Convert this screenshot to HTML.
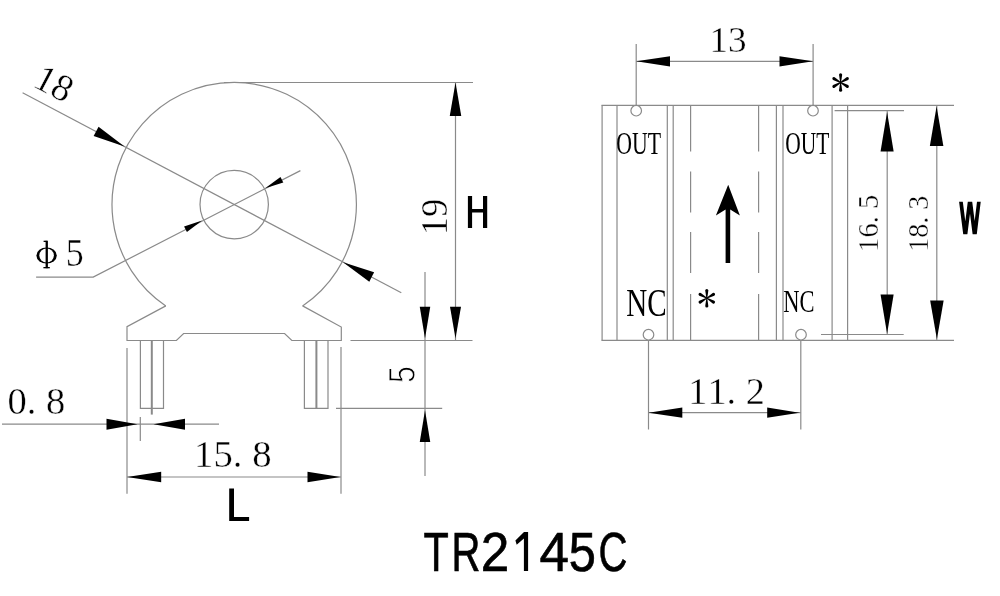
<!DOCTYPE html>
<html><head><meta charset="utf-8"><title>TR2145C</title>
<style>html,body{margin:0;padding:0;background:#fff;width:1000px;height:596px;overflow:hidden}svg{display:block;filter:grayscale(1)}</style>
</head><body>
<svg width="1000" height="596" viewBox="0 0 1000 596">
<rect width="1000" height="596" fill="#fff"/>
<path d="M165.8,305.9 A122.2,122.2 0 1 1 302.6,305.9" stroke="#8a8a8a" stroke-width="1.2" fill="none"/>
<path d="M302.6,305.9 L341.3,327 L341.3,340.5 L291.8,340.5 L284.6,333.5 L183.6,333.5 L176.4,340.5 L127,340.5 L127,326.6 L165.8,305.9" stroke="#8a8a8a" stroke-width="1.2" fill="none"/>
<circle cx="234.2" cy="204.6" r="34.2" stroke="#8a8a8a" fill="none" stroke-width="1.2"/>
<path d="M140.4,340.5 L140.4,408.3 L163.5,408.3 L163.5,340.5" stroke="#8a8a8a" stroke-width="1.2" fill="none"/>
<path d="M304.4,340.5 L304.4,408.3 L328.0,408.3 L328.0,340.5" stroke="#8a8a8a" stroke-width="1.2" fill="none"/>
<line x1="151.8" y1="340.5" x2="151.8" y2="414.6" stroke="#8a8a8a" stroke-width="2"/>
<line x1="316.4" y1="340.5" x2="316.4" y2="408.3" stroke="#8a8a8a" stroke-width="2"/>
<line x1="224" y1="82.5" x2="473" y2="82.5" stroke="#8a8a8a" stroke-width="1.2"/>
<line x1="350.5" y1="340.5" x2="472.5" y2="340.5" stroke="#8a8a8a" stroke-width="1.2"/>
<line x1="336" y1="408.3" x2="442.2" y2="408.3" stroke="#8a8a8a" stroke-width="1.2"/>
<line x1="127" y1="348" x2="127" y2="493.8" stroke="#8a8a8a" stroke-width="1.2"/>
<line x1="341" y1="347" x2="341" y2="493.8" stroke="#8a8a8a" stroke-width="1.2"/>
<line x1="140.3" y1="417" x2="140.3" y2="441" stroke="#8a8a8a" stroke-width="1.2"/>
<line x1="455.5" y1="82.5" x2="455.5" y2="340.5" stroke="#8a8a8a" stroke-width="1.2"/>
<polygon points="455.50,82.50 449.75,116.10 461.25,116.10" fill="#000"/>
<polygon points="455.50,338.50 461.00,306.80 450.00,306.80" fill="#000"/>
<line x1="425" y1="272" x2="425" y2="476" stroke="#8a8a8a" stroke-width="1.2"/>
<polygon points="425.00,338.50 430.25,306.80 419.75,306.80" fill="#000"/>
<polygon points="425.00,410.20 419.75,442.00 430.25,442.00" fill="#000"/>
<line x1="22.6" y1="92.7" x2="401.3" y2="292.8" stroke="#8a8a8a" stroke-width="1.2"/>
<polygon points="124.50,146.50 98.56,126.76 93.64,136.04" fill="#000"/>
<polygon points="343.00,262.20 369.29,281.67 374.11,272.33" fill="#000"/>
<path d="M300.4,170.6 L93.2,277.1 L36.1,277.1" stroke="#8a8a8a" stroke-width="1.2" fill="none"/>
<polygon points="265.10,188.20 283.29,182.57 280.51,177.03" fill="#000"/>
<polygon points="202.10,220.60 184.07,226.45 186.93,231.95" fill="#000"/>
<line x1="2" y1="424.2" x2="219" y2="424.2" stroke="#8a8a8a" stroke-width="1.2"/>
<polygon points="137.50,424.20 106.50,418.70 106.50,429.70" fill="#000"/>
<polygon points="153.50,424.20 185.00,429.70 185.00,418.70" fill="#000"/>
<line x1="127" y1="477" x2="341" y2="477" stroke="#8a8a8a" stroke-width="1.2"/>
<polygon points="127.00,477.00 161.20,482.25 161.20,471.75" fill="#000"/>
<polygon points="340.50,477.00 307.50,471.75 307.50,482.25" fill="#000"/>
<ellipse cx="46.6" cy="255.45" rx="10.2" ry="8.05" fill="#000"/>
<ellipse cx="46.6" cy="255.45" rx="7.3" ry="7.0" fill="#fff"/>
<rect x="45.6" y="240.7" width="2.3" height="27.5" fill="#000"/>
<rect x="43.6" y="240.7" width="3" height="1.3" fill="#000"/>
<rect x="43.4" y="267.0" width="6.4" height="1.3" fill="#000"/>
<path d="M467.9,196 h4.2 v12.9 h10.9 v-12.9 h4.2 v32.1 h-4.2 v-15.5 h-10.9 v15.5 h-4.2 z" fill="#000"/>
<path d="M229.2,488.4 h4.8 v28.5 h15.1 v4 h-19.9 z" fill="#000"/>
<path d="M528.1,532.1 L524.0,532.1 L515.4,540.6 L516.7,544.8 L523.9,538.4 L523.9,570.9 L528.1,570.9 Z" fill="#000"/>
<clipPath id="wc"><rect x="950" y="201.8" width="40" height="32.4"/></clipPath>
<polyline clip-path="url(#wc)" points="960.6,199 965.3,236 970.0,199 974.7,236 979.2,199" fill="none" stroke="#000" stroke-width="3.7" stroke-linejoin="miter" stroke-miterlimit="20"/>
<line x1="601.5" y1="105.3" x2="954" y2="105.3" stroke="#8a8a8a" stroke-width="1.2"/>
<line x1="601.5" y1="340.4" x2="954" y2="340.4" stroke="#8a8a8a" stroke-width="1.2"/>
<line x1="602.1" y1="105.3" x2="602.1" y2="340.4" stroke="#8a8a8a" stroke-width="1.2"/>
<line x1="617.0" y1="105.3" x2="617.0" y2="340.4" stroke="#8a8a8a" stroke-width="1.2"/>
<line x1="667.3" y1="105.3" x2="667.3" y2="340.4" stroke="#8a8a8a" stroke-width="1.2"/>
<line x1="673.2" y1="105.3" x2="673.2" y2="340.4" stroke="#8a8a8a" stroke-width="1.2"/>
<line x1="776.4" y1="105.3" x2="776.4" y2="340.4" stroke="#8a8a8a" stroke-width="1.2"/>
<line x1="783.0" y1="105.3" x2="783.0" y2="340.4" stroke="#8a8a8a" stroke-width="1.2"/>
<line x1="832.1" y1="105.3" x2="832.1" y2="340.4" stroke="#8a8a8a" stroke-width="1.2"/>
<line x1="847.6" y1="105.3" x2="847.6" y2="340.4" stroke="#8a8a8a" stroke-width="1.2"/>
<line x1="690.6" y1="105.3" x2="690.6" y2="151.5" stroke="#8a8a8a" stroke-width="1.2"/>
<line x1="690.6" y1="171.5" x2="690.6" y2="212.5" stroke="#8a8a8a" stroke-width="1.2"/>
<line x1="690.6" y1="232" x2="690.6" y2="273" stroke="#8a8a8a" stroke-width="1.2"/>
<line x1="690.6" y1="294" x2="690.6" y2="340.4" stroke="#8a8a8a" stroke-width="1.2"/>
<line x1="758.6" y1="105.3" x2="758.6" y2="151.5" stroke="#8a8a8a" stroke-width="1.2"/>
<line x1="758.6" y1="171.5" x2="758.6" y2="212.5" stroke="#8a8a8a" stroke-width="1.2"/>
<line x1="758.6" y1="232" x2="758.6" y2="273" stroke="#8a8a8a" stroke-width="1.2"/>
<line x1="758.6" y1="294" x2="758.6" y2="340.4" stroke="#8a8a8a" stroke-width="1.2"/>
<line x1="834.6" y1="110.6" x2="904" y2="110.6" stroke="#8a8a8a" stroke-width="1.2"/>
<line x1="821" y1="334.5" x2="903.7" y2="334.5" stroke="#8a8a8a" stroke-width="1.2"/>
<circle cx="636.2" cy="110.7" r="5.3" fill="#fff" stroke="#8a8a8a" stroke-width="1.2"/>
<circle cx="813.0" cy="110.7" r="5.3" fill="#fff" stroke="#8a8a8a" stroke-width="1.2"/>
<circle cx="648.5" cy="334.7" r="5.3" fill="#fff" stroke="#8a8a8a" stroke-width="1.2"/>
<circle cx="801.0" cy="334.7" r="5.3" fill="#fff" stroke="#8a8a8a" stroke-width="1.2"/>
<line x1="636.2" y1="44" x2="636.2" y2="105.4" stroke="#8a8a8a" stroke-width="1.2"/>
<line x1="813.1" y1="44" x2="813.1" y2="105.4" stroke="#8a8a8a" stroke-width="1.2"/>
<line x1="636.2" y1="61.3" x2="813.1" y2="61.3" stroke="#8a8a8a" stroke-width="1.2"/>
<polygon points="636.20,61.30 670.00,66.45 670.00,56.15" fill="#000"/>
<polygon points="813.10,61.30 779.50,56.15 779.50,66.45" fill="#000"/>
<line x1="648.5" y1="340" x2="648.5" y2="429.5" stroke="#8a8a8a" stroke-width="1.2"/>
<line x1="800.8" y1="340" x2="800.8" y2="429.5" stroke="#8a8a8a" stroke-width="1.2"/>
<line x1="648.5" y1="412.7" x2="800.8" y2="412.7" stroke="#8a8a8a" stroke-width="1.2"/>
<polygon points="648.50,412.70 682.30,417.85 682.30,407.55" fill="#000"/>
<polygon points="799.50,412.70 767.20,407.55 767.20,417.85" fill="#000"/>
<line x1="887.2" y1="111" x2="887.2" y2="334" stroke="#8a8a8a" stroke-width="1.2"/>
<line x1="936.8" y1="105.5" x2="936.8" y2="340" stroke="#8a8a8a" stroke-width="1.2"/>
<polygon points="887.10,111.90 880.55,151.60 893.65,151.60" fill="#000"/>
<polygon points="887.10,333.80 893.65,294.60 880.55,294.60" fill="#000"/>
<polygon points="936.60,106.20 929.85,146.10 943.35,146.10" fill="#000"/>
<polygon points="936.90,339.20 943.65,300.50 930.15,300.50" fill="#000"/>
<polygon points="728.2,184.7 739.9,215.6 730.2,209.6 730.2,263.1 725.6,263.1 725.6,209.6 715.9,215.6" fill="#000"/>
<path d="M-0.45,0 L-1.55,-7.75 A1.55,1.55 0 0 1 1.55,-7.75 L0.45,0 Z" fill="#000" transform="translate(840.6,82.5) rotate(0)"/>
<path d="M-0.45,0 L-1.55,-7.75 A1.55,1.55 0 0 1 1.55,-7.75 L0.45,0 Z" fill="#000" transform="translate(840.6,82.5) rotate(60)"/>
<path d="M-0.45,0 L-1.55,-7.75 A1.55,1.55 0 0 1 1.55,-7.75 L0.45,0 Z" fill="#000" transform="translate(840.6,82.5) rotate(120)"/>
<path d="M-0.45,0 L-1.55,-7.75 A1.55,1.55 0 0 1 1.55,-7.75 L0.45,0 Z" fill="#000" transform="translate(840.6,82.5) rotate(180)"/>
<path d="M-0.45,0 L-1.55,-7.75 A1.55,1.55 0 0 1 1.55,-7.75 L0.45,0 Z" fill="#000" transform="translate(840.6,82.5) rotate(240)"/>
<path d="M-0.45,0 L-1.55,-7.75 A1.55,1.55 0 0 1 1.55,-7.75 L0.45,0 Z" fill="#000" transform="translate(840.6,82.5) rotate(300)"/>
<path d="M-0.45,0 L-1.55,-7.75 A1.55,1.55 0 0 1 1.55,-7.75 L0.45,0 Z" fill="#000" transform="translate(706.8,298.2) rotate(0)"/>
<path d="M-0.45,0 L-1.55,-7.75 A1.55,1.55 0 0 1 1.55,-7.75 L0.45,0 Z" fill="#000" transform="translate(706.8,298.2) rotate(60)"/>
<path d="M-0.45,0 L-1.55,-7.75 A1.55,1.55 0 0 1 1.55,-7.75 L0.45,0 Z" fill="#000" transform="translate(706.8,298.2) rotate(120)"/>
<path d="M-0.45,0 L-1.55,-7.75 A1.55,1.55 0 0 1 1.55,-7.75 L0.45,0 Z" fill="#000" transform="translate(706.8,298.2) rotate(180)"/>
<path d="M-0.45,0 L-1.55,-7.75 A1.55,1.55 0 0 1 1.55,-7.75 L0.45,0 Z" fill="#000" transform="translate(706.8,298.2) rotate(240)"/>
<path d="M-0.45,0 L-1.55,-7.75 A1.55,1.55 0 0 1 1.55,-7.75 L0.45,0 Z" fill="#000" transform="translate(706.8,298.2) rotate(300)"/>
<text x="0.0 50.0 100.0" y="0" font-family="Liberation Serif, serif" font-weight="normal" font-size="100" fill="#000" stroke="#fff" stroke-width="1.05" transform="translate(36.35,402.25) rotate(0) scale(0.3852,0.3750) translate(-75.00,32.00)">0.8</text>
<text x="0.0 50.0 100.0 150.0" y="0" font-family="Liberation Serif, serif" font-weight="normal" font-size="100" fill="#000" stroke="#fff" stroke-width="1.04" transform="translate(233.75,455.00) rotate(0) scale(0.3877,0.3824) translate(-102.50,32.00)">15.8</text>
<text x="0.0 50.0" y="0" font-family="Liberation Serif, serif" font-weight="normal" font-size="100" fill="#000" stroke="#fff" stroke-width="1.06" transform="translate(433.90,216.00) rotate(-90) scale(0.3655,0.3881) translate(-52.50,32.50)">19</text>
<text x="0" y="0" font-family="Liberation Sans, sans-serif" font-weight="normal" font-size="100" fill="#000" stroke="#fff" stroke-width="2.66" transform="translate(402.50,374.45) rotate(-90) scale(0.3062,0.3743) translate(-28.00,34.00)">5</text>
<text x="0" y="0" font-family="Liberation Serif, serif" font-weight="normal" font-size="100" fill="#000" stroke="#fff" stroke-width="1.07" transform="translate(75.10,253.60) rotate(0) scale(0.3600,0.3909) translate(-26.00,32.00)">5</text>
<text x="0.0 50.0" y="0" font-family="Liberation Serif, serif" font-weight="normal" font-size="100" fill="#000" stroke="#fff" stroke-width="1.10" transform="translate(729.00,40.40) rotate(0) scale(0.3724,0.3582) translate(-52.50,32.50)">13</text>
<text x="0" y="0" font-family="Liberation Serif, serif" font-weight="normal" font-size="100" fill="#000"  transform="translate(639.00,144.35) rotate(0) scale(0.2180,0.3162) translate(-104.00,32.00)">OUT</text>
<text x="0" y="0" font-family="Liberation Serif, serif" font-weight="normal" font-size="100" fill="#000"  transform="translate(807.50,143.45) rotate(0) scale(0.2150,0.3162) translate(-104.00,32.00)">OUT</text>
<text x="0" y="0" font-family="Liberation Serif, serif" font-weight="normal" font-size="100" fill="#000"  transform="translate(646.15,303.60) rotate(0) scale(0.2908,0.3941) translate(-68.50,32.00)">NC</text>
<text x="0" y="0" font-family="Liberation Serif, serif" font-weight="normal" font-size="100" fill="#000"  transform="translate(798.65,301.55) rotate(0) scale(0.2252,0.3162) translate(-68.50,32.00)">NC</text>
<text x="0.0 50.0 100.0 150.0" y="0" font-family="Liberation Serif, serif" font-weight="normal" font-size="100" fill="#000" stroke="#fff" stroke-width="1.05" transform="translate(727.40,391.30) rotate(0) scale(0.3828,0.3821) translate(-102.00,32.50)">11.2</text>
<text x="0.0 50.0 100.0 150.0" y="0" font-family="Liberation Serif, serif" font-weight="normal" font-size="100" fill="#000" stroke="#fff" stroke-width="1.37" transform="translate(868.60,222.55) rotate(-90) scale(0.2861,0.2971) translate(-102.50,32.00)">16.5</text>
<text x="0.0 50.0 100.0 150.0" y="0" font-family="Liberation Serif, serif" font-weight="normal" font-size="100" fill="#000" stroke="#fff" stroke-width="1.39" transform="translate(918.60,223.05) rotate(-90) scale(0.2807,0.2941) translate(-102.50,32.00)">18.3</text>
<text x="0" y="0" font-family="Liberation Sans, sans-serif" font-weight="normal" font-size="100" fill="#000" stroke="#000" stroke-width="1.2" transform="translate(436.20,551.60) rotate(0) scale(0.4140,0.5600) translate(-30.50,34.00)">T</text>
<text x="0" y="0" font-family="Liberation Sans, sans-serif" font-weight="normal" font-size="100" fill="#000" stroke="#000" stroke-width="1.2" transform="translate(466.50,551.60) rotate(0) scale(0.4000,0.5600) translate(-37.50,35.00)">R</text>
<text x="0" y="0" font-family="Liberation Sans, sans-serif" font-weight="normal" font-size="100" fill="#000" stroke="#000" stroke-width="1.2" transform="translate(495.10,551.60) rotate(0) scale(0.5130,0.5600) translate(-28.00,35.00)">2</text>
<text x="0" y="0" font-family="Liberation Sans, sans-serif" font-weight="normal" font-size="100" fill="#000" stroke="#000" stroke-width="1.2" transform="translate(554.10,551.60) rotate(0) scale(0.5294,0.5600) translate(-27.50,35.00)">4</text>
<text x="0" y="0" font-family="Liberation Sans, sans-serif" font-weight="normal" font-size="100" fill="#000" stroke="#000" stroke-width="1.2" transform="translate(582.30,551.60) rotate(0) scale(0.4875,0.5600) translate(-28.00,34.00)">5</text>
<text x="0" y="0" font-family="Liberation Sans, sans-serif" font-weight="normal" font-size="100" fill="#000" stroke="#000" stroke-width="1.2" transform="translate(613.20,551.60) rotate(0) scale(0.4000,0.5521) translate(-36.50,34.50)">C</text>
<text x="0 50" y="0" font-family="Liberation Serif, serif" font-size="100" stroke="#fff" stroke-width="1.05" transform="translate(34.5,87.3) rotate(27.851) scale(0.38) translate(-9,0)">18</text>
</svg></body></html>
